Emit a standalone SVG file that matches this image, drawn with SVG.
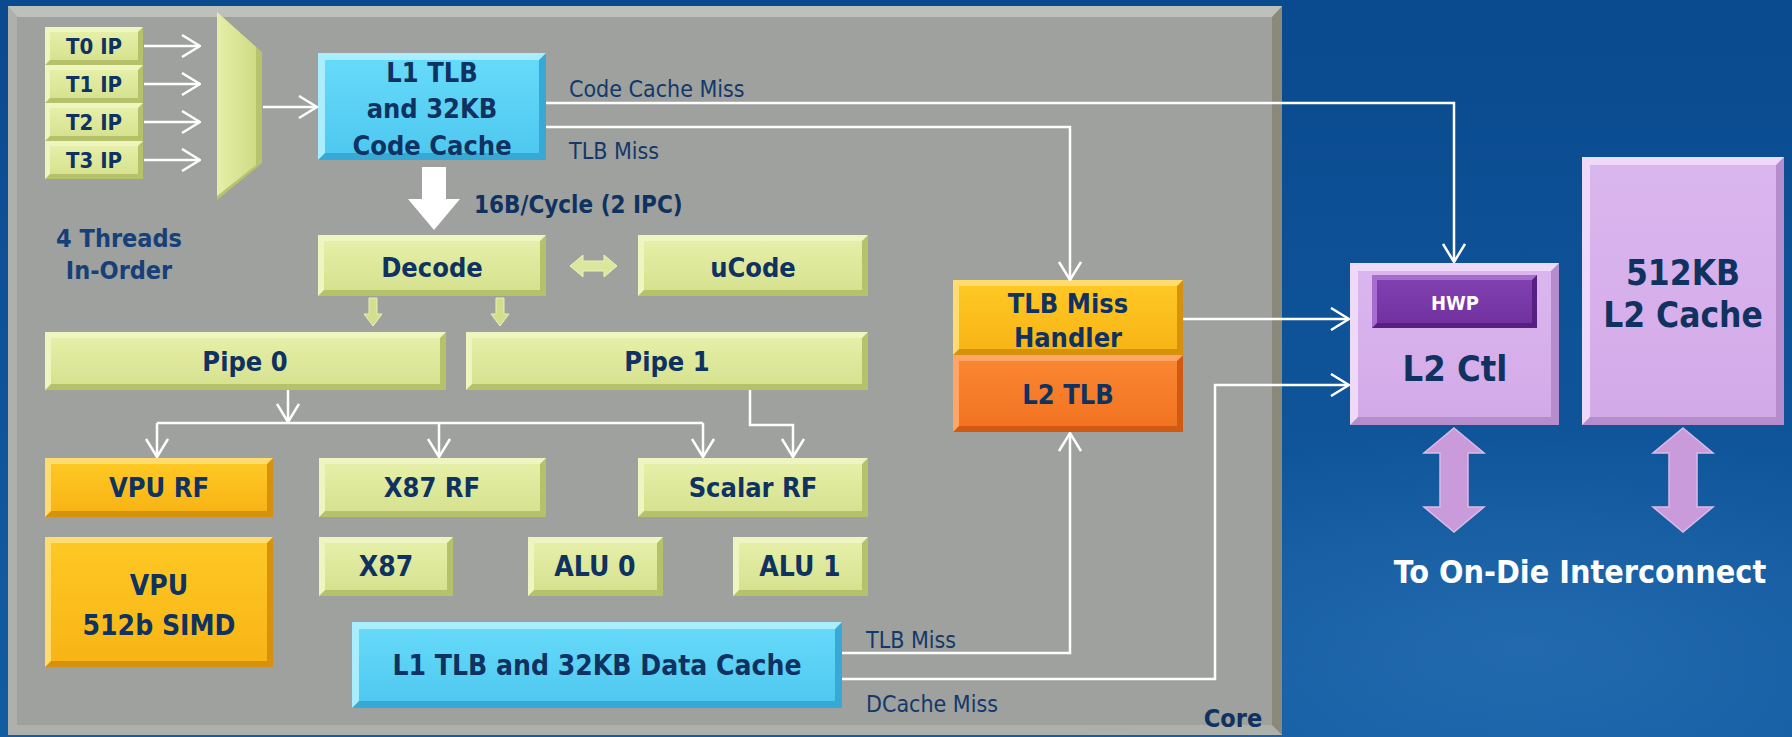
<svg xmlns="http://www.w3.org/2000/svg" width="1792" height="737" viewBox="0 0 1792 737">
<defs>
<style>
.t{font-family:'DejaVu Sans Condensed','DejaVu Sans',sans-serif;font-stretch:condensed;font-weight:bold;fill:#0f3261;text-anchor:middle}
.lbl{font-family:'DejaVu Sans Condensed','DejaVu Sans',sans-serif;font-stretch:condensed;font-weight:normal;fill:#14386a;font-size:23px}
.conn{fill:none;stroke:#fff;stroke-width:2.5}
.gd{fill:#b6c26a}.gl{fill:#eef5c0}.gf{fill:url(#gG)}
.cd{fill:#37a9d6}.cl{fill:#a8eeff}.cf{fill:url(#gC)}
.yd{fill:#d6920c}.yl{fill:#ffdc70}.yf{fill:url(#gY)}
.od{fill:#d05a12}.ol{fill:#ffa566}.of{fill:url(#gO)}
.pd{fill:#b68dcc}.pl{fill:#efd9f9}.pf{fill:url(#gP)}
.hd{fill:#571f80}.hl{fill:#a66dce}.hf{fill:url(#gH)}
</style>
<linearGradient id="bg" x1="0" y1="0" x2="0" y2="1"><stop offset="0" stop-color="#0a4a8e"/><stop offset="1" stop-color="#135ca2"/></linearGradient>
<radialGradient id="bg2" cx="0.85" cy="0.88" r="0.3"><stop offset="0" stop-color="#3b82c4" stop-opacity="0.4"/><stop offset="1" stop-color="#3b82c4" stop-opacity="0"/></radialGradient>
<linearGradient id="gG" x1="0" y1="0" x2="0" y2="1"><stop offset="0" stop-color="#e6efa8"/><stop offset="1" stop-color="#d6e290"/></linearGradient>
<linearGradient id="gC" x1="0" y1="0" x2="0" y2="1"><stop offset="0" stop-color="#66daf9"/><stop offset="1" stop-color="#4fc8f0"/></linearGradient>
<linearGradient id="gY" x1="0" y1="0" x2="0" y2="1"><stop offset="0" stop-color="#fec824"/><stop offset="1" stop-color="#f8b515"/></linearGradient>
<linearGradient id="gO" x1="0" y1="0" x2="0" y2="1"><stop offset="0" stop-color="#fa8632"/><stop offset="1" stop-color="#f27322"/></linearGradient>
<linearGradient id="gP" x1="0" y1="0" x2="0" y2="1"><stop offset="0" stop-color="#dab6ee"/><stop offset="1" stop-color="#d3aae8"/></linearGradient>
<linearGradient id="gH" x1="0" y1="0" x2="0" y2="1"><stop offset="0" stop-color="#8140b0"/><stop offset="1" stop-color="#7132a0"/></linearGradient>
<linearGradient id="gM" x1="0" y1="0" x2="1" y2="0"><stop offset="0" stop-color="#e6efa8"/><stop offset="1" stop-color="#cfdc86"/></linearGradient>
<marker id="ah" viewBox="0 0 20 24" refX="19" refY="12" markerWidth="20" markerHeight="24" markerUnits="userSpaceOnUse" orient="auto"><path d="M1,1 L19,12 L1,23" fill="none" stroke="#fff" stroke-width="2.5"/></marker>
</defs>

<rect x="0" y="0" width="1792" height="737" fill="url(#bg)"/>
<rect x="0" y="0" width="1792" height="737" fill="url(#bg2)"/>

<g id="core">
<rect x="8" y="6" width="1274" height="729" fill="#adb0ab"/>
<path d="M1282,6 L1272,16 V725 L1282,735 Z" fill="#8b897b"/>
<path d="M8,6 H1282 L1272,17 H18 Z" fill="#bdc0bb"/>
<rect x="17" y="17" width="1255" height="708" fill="#9ea19d"/>
<text class="t" x="1233" y="727" font-size="25">Core</text>
</g>

<g id="threads">
<g id="t0ip"><rect class="gd" x="45" y="27" width="98" height="38"/><path class="gl" d="M45,27 H143 L138,32 H50 V60 L45,65 Z"/><rect class="gf" x="50" y="32" width="88" height="28"/><text class="t" x="94" y="54" font-size="22">T0 IP</text></g>
<g id="t1ip"><rect class="gd" x="45" y="65" width="98" height="38"/><path class="gl" d="M45,65 H143 L138,70 H50 V98 L45,103 Z"/><rect class="gf" x="50" y="70" width="88" height="28"/><text class="t" x="94" y="92" font-size="22">T1 IP</text></g>
<g id="t2ip"><rect class="gd" x="45" y="103" width="98" height="38"/><path class="gl" d="M45,103 H143 L138,108 H50 V136 L45,141 Z"/><rect class="gf" x="50" y="108" width="88" height="28"/><text class="t" x="94" y="130" font-size="22">T2 IP</text></g>
<g id="t3ip"><rect class="gd" x="45" y="141" width="98" height="38"/><path class="gl" d="M45,141 H143 L138,146 H50 V174 L45,179 Z"/><rect class="gf" x="50" y="146" width="88" height="28"/><text class="t" x="94" y="168" font-size="22">T3 IP</text></g>
<text class="t" x="119" y="247" font-size="25" style="fill:#173f78">4 Threads</text>
<text class="t" x="119" y="279" font-size="25" style="fill:#173f78">In-Order</text>
</g>

<g id="mux">
<polygon points="217,12 262,52 262,163 217,200" fill="#b8c46c"/>
<polygon points="217,12 256,47 256,165 217,196" fill="url(#gM)"/>
</g>

<g id="l1code"><rect class="cd" x="318" y="53" width="228" height="107"/><path class="cl" d="M318,53 H546 L539,60 H325 V153 L318,160 Z"/><rect class="cf" x="325" y="60" width="214" height="93"/>
<text class="t" x="432" y="82" font-size="27">L1 TLB</text><text class="t" x="432" y="118" font-size="27">and 32KB</text><text class="t" x="432" y="155" font-size="27">Code Cache</text></g>

<g id="decode"><rect class="gd" x="318" y="235" width="228" height="61"/><path class="gl" d="M318,235 H546 L540,241 H324 V290 L318,296 Z"/><rect class="gf" x="324" y="241" width="216" height="49"/><text class="t" x="432" y="277" font-size="27">Decode</text></g>
<g id="ucode"><rect class="gd" x="638" y="235" width="230" height="61"/><path class="gl" d="M638,235 H868 L862,241 H644 V290 L638,296 Z"/><rect class="gf" x="644" y="241" width="218" height="49"/><text class="t" x="753" y="277" font-size="27">uCode</text></g>

<g id="pipe0"><rect class="gd" x="45" y="332" width="401" height="58"/><path class="gl" d="M45,332 H446 L440,338 H51 V384 L45,390 Z"/><rect class="gf" x="51" y="338" width="389" height="46"/><text class="t" x="245" y="371" font-size="27">Pipe 0</text></g>
<g id="pipe1"><rect class="gd" x="466" y="332" width="402" height="58"/><path class="gl" d="M466,332 H868 L862,338 H472 V384 L466,390 Z"/><rect class="gf" x="472" y="338" width="390" height="46"/><text class="t" x="667" y="371" font-size="27">Pipe 1</text></g>

<g id="vpurf"><rect class="yd" x="45" y="458" width="228" height="59"/><path class="yl" d="M45,458 H273 L267,464 H51 V511 L45,517 Z"/><rect class="yf" x="51" y="464" width="216" height="47"/><text class="t" x="159" y="497" font-size="27">VPU RF</text></g>
<g id="x87rf"><rect class="gd" x="319" y="458" width="227" height="59"/><path class="gl" d="M319,458 H546 L540,464 H325 V511 L319,517 Z"/><rect class="gf" x="325" y="464" width="215" height="47"/><text class="t" x="432" y="497" font-size="27">X87 RF</text></g>
<g id="scalarrf"><rect class="gd" x="638" y="458" width="230" height="59"/><path class="gl" d="M638,458 H868 L862,464 H644 V511 L638,517 Z"/><rect class="gf" x="644" y="464" width="218" height="47"/><text class="t" x="753" y="497" font-size="27">Scalar RF</text></g>

<g id="vpu"><rect class="yd" x="45" y="537" width="228" height="130"/><path class="yl" d="M45,537 H273 L267,543 H51 V661 L45,667 Z"/><rect class="yf" x="51" y="543" width="216" height="118"/><text class="t" x="159" y="595" font-size="28">VPU</text><text class="t" x="159" y="635" font-size="28">512b SIMD</text></g>
<g id="x87"><rect class="gd" x="319" y="537" width="134" height="59"/><path class="gl" d="M319,537 H453 L447,543 H325 V590 L319,596 Z"/><rect class="gf" x="325" y="543" width="122" height="47"/><text class="t" x="386" y="576" font-size="28">X87</text></g>
<g id="alu0"><rect class="gd" x="528" y="537" width="135" height="59"/><path class="gl" d="M528,537 H663 L657,543 H534 V590 L528,596 Z"/><rect class="gf" x="534" y="543" width="123" height="47"/><text class="t" x="595" y="576" font-size="28">ALU 0</text></g>
<g id="alu1"><rect class="gd" x="733" y="537" width="135" height="59"/><path class="gl" d="M733,537 H868 L862,543 H739 V590 L733,596 Z"/><rect class="gf" x="739" y="543" width="123" height="47"/><text class="t" x="800" y="576" font-size="28">ALU 1</text></g>

<g id="l1data"><rect class="cd" x="352" y="622" width="490" height="86"/><path class="cl" d="M352,622 H842 L835,629 H359 V701 L352,708 Z"/><rect class="cf" x="359" y="629" width="476" height="72"/><text class="t" x="597" y="675" font-size="28">L1 TLB and 32KB Data Cache</text></g>

<g id="tlbhandler"><rect class="yd" x="953" y="280" width="230" height="75"/><path class="yl" d="M953,280 H1183 L1177,286 H959 V349 L953,355 Z"/><rect class="yf" x="959" y="286" width="218" height="63"/><text class="t" x="1068" y="313" font-size="27">TLB Miss</text><text class="t" x="1068" y="347" font-size="27">Handler</text></g>
<g id="l2tlb"><rect class="od" x="953" y="355" width="230" height="77"/><path class="ol" d="M953,355 H1183 L1177,361 H959 V426 L953,432 Z"/><rect class="of" x="959" y="361" width="218" height="65"/><text class="t" x="1068" y="404" font-size="27">L2 TLB</text></g>

<g id="l2ctl"><rect class="pd" x="1350" y="263" width="209" height="162"/><path class="pl" d="M1350,263 H1559 L1551,271 H1358 V417 L1350,425 Z"/><rect class="pf" x="1358" y="271" width="193" height="146"/><text class="t" x="1455" y="381" font-size="36">L2 Ctl</text></g>
<g id="hwp"><rect class="hd" x="1372" y="275" width="165" height="53"/><path class="hl" d="M1372,275 H1537 L1532,280 H1377 V323 L1372,328 Z"/><rect class="hf" x="1377" y="280" width="155" height="43"/><text class="t" x="1455" y="310" font-size="20" style="fill:#fff">HWP</text></g>
<g id="l2cache"><rect class="pd" x="1582" y="157" width="202" height="268"/><path class="pl" d="M1582,157 H1784 L1776,165 H1590 V417 L1582,425 Z"/><rect class="pf" x="1590" y="165" width="186" height="252"/><text class="t" x="1683" y="285" font-size="35">512KB</text><text class="t" x="1683" y="327" font-size="35">L2 Cache</text></g>

<g id="connectors">
<path class="conn" d="M144,46 H200" marker-end="url(#ah)"/>
<path class="conn" d="M144,84 H200" marker-end="url(#ah)"/>
<path class="conn" d="M144,122 H200" marker-end="url(#ah)"/>
<path class="conn" d="M144,160 H200" marker-end="url(#ah)"/>
<path class="conn" d="M263,107 H317" marker-end="url(#ah)"/>
<polygon points="422,167 446,167 446,199 460,199 434,230 408,199 422,199" fill="#fff"/>
<polygon points="570,266 583,255 583,261 604,261 604,255 617,266 604,277 604,271 583,271 583,277" fill="#dbe79d" stroke="#eaf2c0" stroke-width="1"/>
<polygon points="369,298 377,298 377,314 382,314 373,326 364,314 369,314" fill="#d3df8c" stroke="#e8f0b8" stroke-width="1"/>
<polygon points="496,298 504,298 504,314 509,314 500,326 491,314 496,314" fill="#d3df8c" stroke="#e8f0b8" stroke-width="1"/>
<path class="conn" d="M288,390 V422" marker-end="url(#ah)"/>
<path class="conn" d="M157,423 H703"/>
<path class="conn" d="M157,423 V457" marker-end="url(#ah)"/>
<path class="conn" d="M439,423 V457" marker-end="url(#ah)"/>
<path class="conn" d="M703,423 V457" marker-end="url(#ah)"/>
<path class="conn" d="M750,390 V425 H793 V457" marker-end="url(#ah)"/>
<path class="conn" d="M546,103 H1454 V262" marker-end="url(#ah)"/>
<path class="conn" d="M546,127 H1070 V280" marker-end="url(#ah)"/>
<path class="conn" d="M1183,319 H1349" marker-end="url(#ah)"/>
<path class="conn" d="M842,653 H1070 V433" marker-end="url(#ah)"/>
<path class="conn" d="M842,679 H1215 V385 H1349" marker-end="url(#ah)"/>
<polygon points="1454,428 1484,453 1468,453 1468,507 1484,507 1454,532 1424,507 1440,507 1440,453 1424,453" fill="#c99bda" stroke="#dcbbe9" stroke-width="1.5"/>
<polygon points="1683,428 1713,453 1697,453 1697,507 1713,507 1683,532 1653,507 1669,507 1669,453 1653,453" fill="#c99bda" stroke="#dcbbe9" stroke-width="1.5"/>
<text class="lbl" x="569" y="97">Code Cache Miss</text>
<text class="lbl" x="569" y="159">TLB Miss</text>
<text class="t" x="474" y="213" font-size="24" style="text-anchor:start">16B/Cycle (2 IPC)</text>
<text class="lbl" x="866" y="648">TLB Miss</text>
<text class="lbl" x="866" y="712">DCache Miss</text>
<text class="t" x="1580" y="583" font-size="32" style="fill:#fff">To On-Die Interconnect</text>
</g>
</svg>
